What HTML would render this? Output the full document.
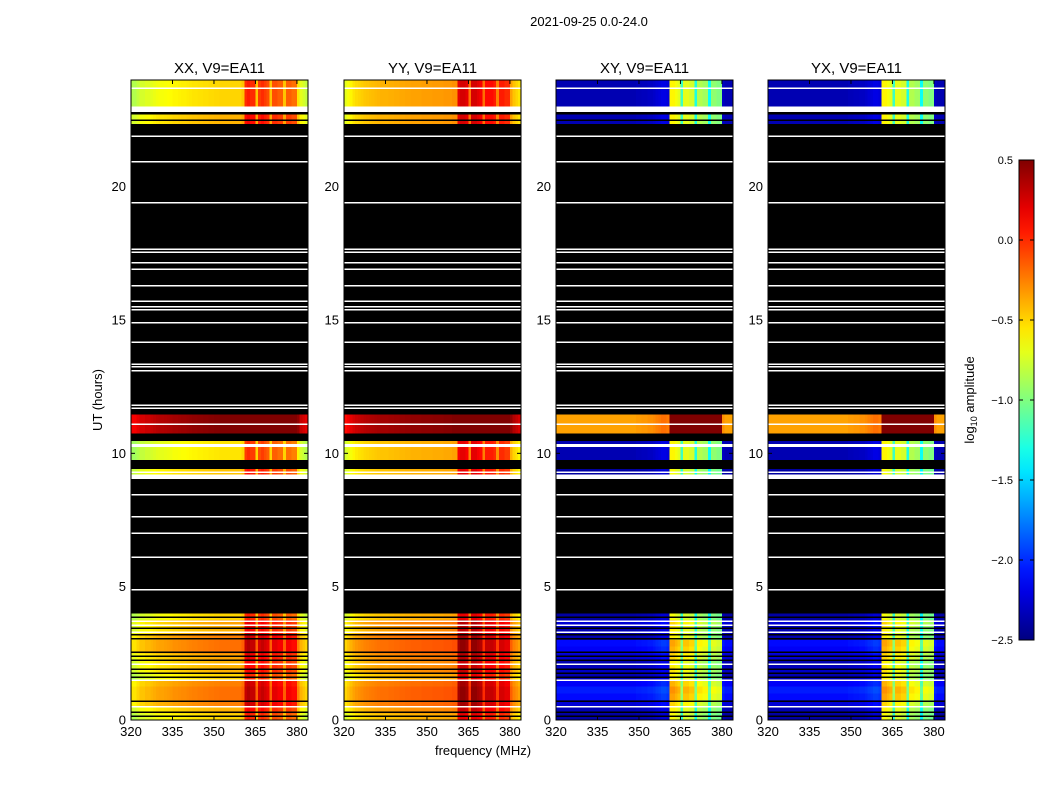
<!DOCTYPE html>
<html><head><meta charset="utf-8">
<style>
body{margin:0;background:#fff;}
svg{display:block;font-family:"Liberation Sans",sans-serif;}
</style></head>
<body>
<svg id="fig" width="1050" height="800" viewBox="0 0 1050 800">
<text x="589" y="26" font-size="13" text-anchor="middle">2021-09-25 0.0-24.0</text>
<text x="483" y="755" font-size="13" text-anchor="middle">frequency (MHz)</text>
<text transform="translate(102,400) rotate(-90)" font-size="13" text-anchor="middle">UT (hours)</text>
<g id="panels"></g>
<defs>
<linearGradient id="jetgrad" x1="0" y1="1" x2="0" y2="0"></linearGradient>
</defs>
<rect x="1019" y="160" width="15" height="480" fill="url(#jetgrad)" stroke="#000" stroke-width="1"/>
<g id="cbticks"></g>
<text transform="translate(974,400) rotate(-90)" font-size="13" text-anchor="middle">log<tspan font-size="9" dy="3">10</tspan><tspan dy="-3"> amplitude</tspan></text>
</svg>
<script>
// ---- data ----
const panelTitles = ["XX, V9=EA11","YY, V9=EA11","XY, V9=EA11","YX, V9=EA11"];
const rowStart = [0,0.25,0.5,0.75,1.0,1.25,1.5,1.75,2.0,2.25,2.5,2.75,3.0,3.25,3.5,3.75, 4.0, 9.2, 9.41, 9.75, 10.46, 10.75, 11.45, 22.35, 22.7, 23.0];
const rowEnd   = [0.25,0.5,0.75,1.0,1.25,1.5,1.75,2.0,2.25,2.5,2.75,3.0,3.25,3.5,3.75,4.0, 9.04, 9.41, 9.75, 10.46, 10.75, 11.45, 22.35, 22.7, 22.8, 24.0];
// null = flagged (black)
const xxLevel = [-0.6,-0.5,-0.35,-0.3,-0.3,-0.35,-0.6,-0.5,-0.5,-0.45,-0.3,-0.3,-0.35,-0.5,-0.45,-0.6, null,-0.55,null,-0.65,null,0.4,null,-0.5,null,-0.6];
const yyLevel = [-0.45,-0.35,-0.25,-0.2,-0.2,-0.25,-0.45,-0.35,-0.35,-0.3,-0.2,-0.2,-0.25,-0.35,-0.3,-0.45, null,-0.45,null,-0.45,null,0.4,null,-0.4,null,-0.4];
const xyLevel = [-2.4,-2.35,-2.25,-2.1,-2.05,-2.15,-2.35,-2.3,-2.35,-2.25,-2.15,-2.1,-2.35,-2.35,-2.25,-2.4, null,-2.4,null,-2.35,null,-0.35,null,-2.35,null,-2.35];
const yxLevel = [-2.4,-2.35,-2.25,-2.1,-2.05,-2.15,-2.35,-2.3,-2.35,-2.25,-2.15,-2.1,-2.35,-2.35,-2.25,-2.4, null,-2.4,null,-2.35,null,-0.35,null,-2.35,null,-2.35];
// frequency offsets, 1 MHz bins 320..383
const freqBins = [320,321,322,323,324,325,326,327,328,329,330,331,332,333,334,335,336,337,338,339,340,341,342,343,344,345,346,347,348,349,350,351,352,353,354,355,356,357,358,359,360,361,362,363,364,365,366,367,368,369,370,371,372,373,374,375,376,377,378,379,380,381,382,383];
const xxOffset = [-0.25,-0.25,-0.2,-0.15,-0.15,-0.12,-0.12,-0.1,-0.08,-0.06,-0.05,-0.05,-0.04,-0.03,-0.02,0,0,0.01,0.02,0.02,0.03,0.04,0.05,0.05,0.06,0.06,0.07,0.07,0.08,0.08,0.09,0.09,0.1,0.1,0.1,0.1,0.1,0.1,0.1,0.1,0.15,0.6,0.65,0.6,0.6,0.15,0.55,0.6,0.55,0.5,0.15,0.5,0.5,0.45,0.45,0.15,0.45,0.45,0.4,0.4,0.05,-0.1,-0.15,-0.2];
const yyOffset = [-0.3,-0.25,-0.2,-0.15,-0.12,-0.1,-0.08,-0.06,-0.05,-0.04,-0.03,-0.02,-0.01,0,0,0,0.01,0.01,0.02,0.02,0.03,0.03,0.04,0.04,0.05,0.05,0.05,0.05,0.06,0.06,0.06,0.06,0.07,0.07,0.07,0.07,0.08,0.08,0.08,0.1,0.1,0.6,0.65,0.65,0.6,0.2,0.65,0.65,0.6,0.55,0.2,0.5,0.5,0.5,0.45,0.15,0.45,0.45,0.4,0.4,0.05,-0.05,-0.1,-0.15];
const xyOffset = [0,0,0,0,0,0,0,0,0,0,0,0,0,0,0,0,0,0,0,0,0,0,0,0,0,0,0,0,0,0.02,0.02,0.03,0.03,0.05,0.05,0.07,0.1,0.12,0.15,0.15,0.12,1.75,1.75,1.7,1.65,1.15,1.65,1.65,1.6,1.6,1.05,1.5,1.5,1.45,1.45,1.0,1.4,1.4,1.35,1.35,0.05,0,0,0];
const yxOffset = xyOffset;
const whiteLines = [0.5,1.5,2.1,3.3,3.55,3.7,4.88,6.11,7.01,7.62,8.44,9.3,10.26,10.32,11.1,11.7,11.81,13.09,13.24,13.35,14.17,14.89,15.38,15.49,15.71,16.28,16.91,17.14,17.55,17.66,19.39,20.93,21.9,23.7];
const blackLines = [0.15,0.3,0.7,1.6,1.75,1.9,2.25,2.4,2.55,3.05,3.2,3.45,3.85,22.5];
const yTicks = [0,5,10,15,20];
const xTicks = [320,335,350,365,380];
const cbTicks = [-2.5,-2.0,-1.5,-1.0,-0.5,0.0,0.5];

// ---- scales ----
const panelLeft = [131,344,556,768];
const panelW = 177, plotTop = 80, plotBottom = 720;
const vmin = -2.5, vmax = 0.5;
function yScale(h){ return plotBottom - h*(plotBottom-plotTop)/24; }
function xScale(i,f){ return panelLeft[i] + (f-320)*panelW/64; }
function jet(v){
  let t=(v-vmin)/(vmax-vmin); t=Math.max(0,Math.min(1,t));
  const c=(x)=>Math.max(0,Math.min(1,x));
  const r=c(Math.min(4*t-1.5,-4*t+4.5)), g=c(Math.min(4*t-0.5,-4*t+3.5)), b=c(Math.min(4*t+0.5,-4*t+2.5));
  return `rgb(${Math.round(r*255)},${Math.round(g*255)},${Math.round(b*255)})`;
}
const NS="http://www.w3.org/2000/svg";
function mk(tag,attrs,parent){const e=document.createElementNS(NS,tag);for(const k in attrs)e.setAttribute(k,attrs[k]);parent.appendChild(e);return e;}

const levels=[xxLevel,yyLevel,xyLevel,yxLevel];
const offsets=[xxOffset,yyOffset,xyOffset,yxOffset];
const root=document.getElementById('panels');
for(let p=0;p<4;p++){
  const g=mk('g',{},root);
  
  
  const hm=mk('g',{'shape-rendering':'crispEdges'},g);
  
  
  for(let r=0;r<rowStart.length;r++){
    const y0=yScale(rowEnd[r]), y1=yScale(rowStart[r]);
    const lv=levels[p][r];
    if(lv===null){
      const e=mk('rect',{x:panelLeft[p],y:y0,width:panelW,height:y1-y0,fill:'#000'},hm);
      
      
      continue;
    }
    for(let f=0;f<freqBins.length;f++){
      const x0=xScale(p,freqBins[f]), x1=xScale(p,freqBins[f]+1);
      const e=mk('rect',{x:x0,y:y0,width:x1-x0+0.3,height:y1-y0,fill:jet(lv+offsets[p][f])},hm);
      
      
    }
  }
  for(const h of blackLines){
    const e=mk('rect',{x:panelLeft[p],y:yScale(h)-0.75,width:panelW,height:1.5,fill:'#000'},hm);
    
    
  }
  for(const h of whiteLines){
    const e=mk('rect',{x:panelLeft[p],y:yScale(h)-0.75,width:panelW,height:1.5,fill:'#fff'},hm);
    
    
  }
  const fr=mk('rect',{x:panelLeft[p],y:plotTop,width:panelW,height:plotBottom-plotTop,fill:'none',stroke:'#000','stroke-width':1},g);
  
  
  const tt=mk('text',{x:panelLeft[p]+panelW/2,y:73,'font-size':15,'text-anchor':'middle'},g);
  tt.textContent=panelTitles[p];
  
  
  for(const h of yTicks){
    const y=yScale(h);
    mk('line',{x1:panelLeft[p],x2:panelLeft[p]+4,y1:y,y2:y,stroke:'#000'},g);
    mk('line',{x1:panelLeft[p]+panelW-4,x2:panelLeft[p]+panelW,y1:y,y2:y,stroke:'#000'},g);
    const t=mk('text',{x:panelLeft[p]-5,y:y+4.5,'font-size':13,'text-anchor':'end'},g);
    t.textContent=h;
    
    
  }
  for(const f of xTicks){
    const x=xScale(p,f);
    mk('line',{x1:x,x2:x,y1:plotBottom,y2:plotBottom-4,stroke:'#000'},g);
    mk('line',{x1:x,x2:x,y1:plotTop,y2:plotTop+4,stroke:'#000'},g);
    const t=mk('text',{x:x,y:plotBottom+16,'font-size':13,'text-anchor':'middle'},g);
    t.textContent=f;
    
    
  }
}
// colorbar
const grad=document.getElementById('jetgrad');
for(let i=0;i<=20;i++){const t=i/20;mk('stop',{offset:t,'stop-color':jet(vmin+t*(vmax-vmin))},grad);}
const cb=document.getElementById('cbticks');
for(const v of cbTicks){
  const y=640-(v-vmin)/(vmax-vmin)*480;
  mk('line',{x1:1019,x2:1023,y1:y,y2:y,stroke:'#000'},cb);
  mk('line',{x1:1030,x2:1034,y1:y,y2:y,stroke:'#000'},cb);
  const t=mk('text',{x:1013,y:y+4,'font-size':11,'text-anchor':'end'},cb);
  t.textContent=(v<0?'\u2212':'')+Math.abs(v).toFixed(1);
  
  
}
</script>
</body></html>
